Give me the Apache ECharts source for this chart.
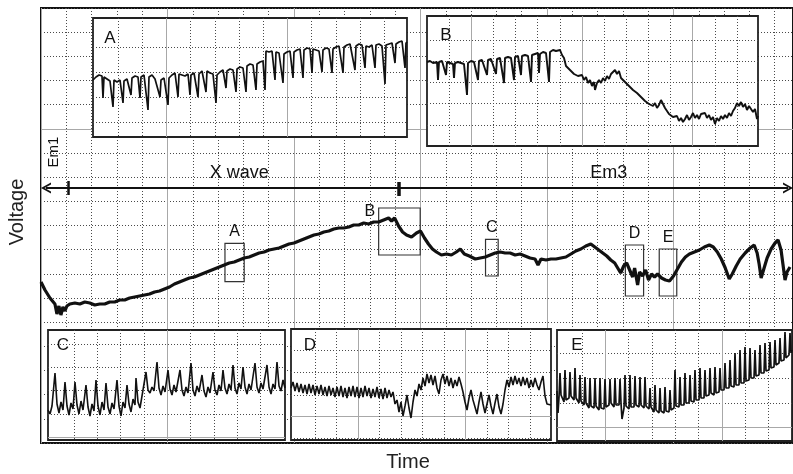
<!DOCTYPE html>
<html><head><meta charset="utf-8">
<script src="https://cdn.jsdelivr.net/npm/echarts@6/dist/echarts.min.js"></script>
<style>html,body{margin:0;padding:0;background:#fff}#c{width:793px;height:474px}</style>
</head><body><div id="c"></div>
<script>
// ---------- DATA (time units, voltage units; 1 grid division = 25.4 time / 24.17 voltage) ----------
const mainTrace = [[0,161],[4,153],[9,145],[14,139],[16,129],[18,137],[20,128],[22,136],[24,132],[26,137],[29,139],[34,140],[39,139],[44,141],[49,140],[54,138],[59,139],[64,139],[69,141],[74,141],[79,143],[84,143],[89,145],[94,146],[99,147],[104,148],[109,149],[114,151],[119,152],[124,154],[129,156],[134,159],[139,161],[144,163],[149,165],[154,166],[159,168],[164,170],[169,172],[174,174],[179,176],[184,178],[189,180],[194,181],[199,183],[204,185],[209,186],[214,188],[219,190],[224,191],[229,193],[234,194],[239,195],[244,197],[249,199],[254,200],[259,202],[264,204],[269,206],[274,208],[279,209],[284,211],[289,212],[294,214],[299,215],[304,215],[309,216],[314,218],[319,218],[324,220],[329,219],[334,221],[339,221],[344,223],[349,225],[352,222],[355,225],[359,217],[363,211],[367,208],[372,206],[377,210],[381,212],[385,205],[389,199],[393,194],[397,191],[402,188],[407,189],[412,188],[417,191],[421,194],[425,189],[430,187],[436,184],[441,185],[446,186],[451,188],[456,190],[461,191],[466,190],[471,190],[476,188],[481,189],[486,187],[491,185],[496,184],[499,178],[502,184],[507,183],[512,184],[517,184],[522,185],[527,186],[532,189],[537,192],[542,194],[547,197],[552,199],[556,196],[560,193],[564,190],[568,187],[572,183],[576,180],[579,175],[582,170],[585,177],[588,180],[591,173],[594,166],[596,175],[599,158],[601,171],[604,167],[607,173],[610,163],[613,169],[616,166],[619,169],[623,165],[627,163],[631,162],[635,167],[639,174],[643,181],[647,186],[651,189],[656,191],[661,193],[666,196],[671,198],[675,196],[679,191],[683,184],[687,175],[691,164],[694,169],[698,177],[702,184],[707,190],[712,195],[716,198],[719,190],[721,179],[723,165],[726,175],[729,185],[733,194],[737,200],[740,203],[743,193],[745,178],[747,163],[749,171],[752,176]];

const traceA = [[0,57],[3,60],[6,62],[9,61],[10,39],[11,60],[14,58],[17,56],[20,30],[21,57],[24,55],[27,57],[30,34],[31,56],[34,58],[36,60],[38,42],[39,59],[42,61],[45,60],[47,39],[48,60],[51,62],[53,61],[55,27],[56,60],[59,62],[62,58],[64,57],[67,40],[68,57],[71,59],[73,58],[75,32],[76,59],[79,62],[82,64],[85,40],[86,63],[89,62],[92,61],[95,63],[97,42],[98,62],[101,64],[103,63],[105,40],[106,63],[109,66],[111,67],[113,45],[114,66],[117,64],[120,63],[123,34],[124,62],[127,65],[130,67],[133,49],[134,66],[137,68],[140,67],[143,45],[144,68],[147,70],[150,69],[153,45],[154,71],[157,73],[160,72],[163,47],[164,73],[167,75],[170,76],[172,47],[173,86],[176,85],[179,86],[182,57],[183,85],[186,84],[188,83],[190,54],[191,83],[194,85],[197,86],[200,59],[201,85],[204,87],[207,88],[210,59],[211,87],[214,89],[217,88],[219,64],[220,88],[223,87],[226,86],[229,65],[230,87],[233,89],[236,88],[239,64],[240,88],[243,90],[246,91],[250,64],[251,90],[254,92],[257,93],[259,91],[262,67],[263,91],[266,93],[269,92],[272,69],[273,91],[276,90],[279,92],[282,69],[283,92],[286,93],[289,91],[292,53],[293,92],[296,93],[299,94],[302,74],[303,93],[306,95],[309,96],[312,69],[313,94],[314,95]];

const traceB = [[0,84],[3,85],[6,83],[10,84],[11,66],[12,84],[15,85],[17,83],[19,71],[20,84],[23,83],[26,82],[27,68],[28,83],[31,84],[34,83],[37,82],[40,51],[41,83],[44,85],[47,84],[51,66],[52,85],[55,86],[57,85],[60,71],[61,86],[64,87],[66,88],[69,72],[70,87],[73,88],[75,87],[77,63],[78,88],[81,89],[84,88],[87,66],[88,89],[91,90],[93,89],[94,71],[95,90],[98,91],[101,90],[104,64],[105,91],[108,92],[111,93],[112,73],[113,92],[116,94],[119,93],[122,64],[123,94],[126,96],[129,95],[131,97],[133,96],[135,91],[137,88],[139,80],[141,82],[143,76],[145,78],[147,72],[149,74],[151,70],[153,68],[155,71],[157,66],[159,69],[161,63],[163,66],[165,60],[167,64],[168,56],[170,63],[172,66],[174,63],[176,68],[178,65],[180,70],[182,67],[184,72],[186,74],[188,76],[190,72],[192,75],[194,68],[196,70],[198,64],[200,66],[202,60],[204,62],[206,56],[208,58],[210,53],[212,55],[214,49],[216,51],[218,45],[220,47],[222,42],[224,44],[226,40],[228,43],[230,38],[232,41],[234,46],[236,42],[238,38],[240,35],[242,32],[244,34],[246,29],[248,27],[250,30],[252,25],[254,28],[256,24],[258,27],[260,31],[262,26],[264,29],[266,33],[268,28],[270,31],[272,27],[274,32],[276,30],[278,33],[280,28],[282,31],[284,26],[286,29],[288,22],[290,28],[292,25],[294,30],[296,27],[298,31],[300,28],[302,33],[304,30],[306,35],[308,38],[310,43],[312,40],[314,44],[316,39],[318,42],[320,36],[322,40],[324,38],[326,34],[328,37],[330,27],[331,30]];

const traceC = [[0,30],[2,26],[4,34],[7,67],[9,36],[11,27],[13,38],[15,30],[17,58],[19,34],[21,25],[23,37],[25,31],[27,58],[29,35],[31,26],[33,39],[35,30],[38,55],[40,33],[42,24],[44,36],[46,29],[48,60],[50,34],[52,25],[54,38],[56,30],[58,57],[60,33],[62,26],[64,37],[66,31],[69,60],[71,34],[73,24],[75,38],[77,32],[79,55],[81,36],[83,28],[85,41],[87,35],[88,62],[90,38],[92,32],[94,44],[96,45],[98,68],[100,50],[102,47],[104,53],[106,49],[109,78],[111,52],[113,45],[115,54],[117,48],[120,70],[122,51],[124,45],[126,55],[128,48],[132,70],[134,50],[136,44],[138,53],[140,47],[143,77],[145,50],[147,44],[149,54],[151,48],[154,65],[156,49],[158,43],[160,53],[162,47],[165,68],[167,50],[169,45],[171,55],[173,49],[175,70],[177,52],[179,46],[181,56],[183,50],[185,75],[187,52],[189,46],[191,57],[193,51],[195,73],[197,53],[199,46],[201,56],[203,50],[207,77],[209,53],[211,47],[213,57],[215,51],[219,75],[221,53],[223,46],[225,56],[227,51],[229,78],[231,54],[233,49],[235,60],[237,52]];

const traceD = [[0,52],[2,58],[4,49],[6,57],[8,48],[10,56],[12,47],[14,55],[16,46],[18,56],[20,47],[22,55],[24,45],[26,54],[28,46],[30,55],[32,45],[34,53],[36,44],[38,54],[40,45],[42,52],[44,43],[46,53],[48,44],[50,54],[52,43],[54,52],[56,42],[58,53],[60,44],[62,54],[64,43],[66,53],[68,42],[70,52],[72,43],[74,54],[76,44],[78,52],[80,42],[82,51],[84,43],[86,53],[88,42],[90,51],[92,41],[94,52],[96,42],[98,50],[100,43],[102,48],[104,36],[106,40],[108,28],[110,38],[112,24],[114,34],[116,45],[118,32],[120,22],[122,38],[124,50],[126,44],[128,56],[130,50],[132,62],[134,54],[136,66],[138,57],[140,65],[142,55],[144,64],[146,52],[148,46],[150,60],[152,66],[154,56],[156,64],[158,54],[160,62],[162,52],[164,60],[166,54],[168,63],[170,56],[172,48],[174,38],[176,30],[178,42],[180,50],[182,40],[184,33],[186,26],[188,38],[190,48],[192,36],[194,27],[196,36],[198,45],[200,34],[202,26],[204,37],[206,46],[208,33],[210,26],[212,36],[214,50],[216,60],[218,53],[220,63],[222,55],[224,64],[226,56],[228,62],[230,54],[232,63],[234,55],[236,62],[238,52],[240,60],[242,53],[244,62],[246,55],[248,50],[250,58],[252,64],[254,44],[256,36],[258,34],[260,35]];

const traceE = [[0,50],[1,28],[2,44],[3,68],[4,46],[7,39],[8,71],[9,41],[12,43],[13,69],[14,45],[17,41],[18,73],[19,43],[22,38],[23,66],[24,40],[27,36],[28,64],[29,38],[32,33],[33,63],[34,35],[37,33],[38,63],[39,35],[42,31],[43,63],[44,33],[47,32],[48,62],[49,34],[52,36],[53,62],[54,38],[57,34],[58,63],[59,36],[62,36],[63,62],[64,38],[65,22],[67,33],[68,66],[69,35],[72,32],[73,66],[74,34],[77,34],[78,65],[79,36],[82,34],[83,64],[84,36],[87,33],[88,64],[89,35],[92,32],[93,53],[94,34],[97,29],[98,56],[99,31],[102,28],[103,53],[104,30],[107,28],[108,54],[109,30],[112,29],[113,51],[114,31],[117,33],[118,71],[119,35],[122,34],[123,64],[124,36],[127,36],[128,68],[129,38],[132,38],[133,66],[134,40],[137,39],[138,71],[139,41],[142,41],[143,73],[144,43],[147,43],[148,71],[149,45],[152,46],[153,73],[154,48],[157,46],[158,74],[159,48],[162,49],[163,73],[164,51],[167,51],[168,78],[169,53],[172,53],[173,81],[174,55],[177,54],[178,88],[179,56],[182,56],[183,91],[184,58],[187,58],[188,94],[189,60],[192,61],[193,93],[194,63],[197,63],[198,91],[199,65],[202,66],[203,96],[204,68],[207,68],[208,98],[209,70],[212,71],[213,99],[214,73],[217,74],[218,101],[219,76],[222,78],[223,103],[224,80],[227,81],[228,109],[229,83],[232,86],[233,108],[234,88],[235,91]];

// marked windows on the main trace
const boxNames = ['A','B','C','D','E'];
const boxTime = [[184.7,204],[339,380.7],[446.3,459],[586.7,605],[620.7,638.3]];
const boxVolt = [[161.3,199.7],[188,235],[167,203.7],[147,198],[147,194]];

// phases
const phaseNames = ['Em1','X wave','Em3'];
const phaseBounds = [27, 359];
const phaseLevel = 255;

// grid-line ticks (axis units)
const mainMajorV = [314.17];
const gridA_t = [25,49.2,73.4,97.6,121.8,146,170.2,194.4,218.6,242.8,267,291.2], gridA_v = [14.4,39.4,64.4,89.4], majorA_t = [73.4,194.4], majorA_v = [];
const gridB_t = [22,44.15,66.3,88.45,110.6,132.75,154.9,177.05,199.2,221.35,243.5,265.65,287.8,309.95], gridB_v = [21,42.3,63.6,84.9,106.2], majorB_t = [44.15,154.9,265.65], majorB_v = [];
const gridC_t = [26,49.3,72.6,95.9,119.2,142.5,165.8,189.1,212.4], gridC_v = [26,49.3,72.6,95.9], majorC_t = [119.2], majorC_v = [2.7];
const gridD_t = [24,45.5,67,88.5,110,131.5,153,174.5,196,217.5,239], gridD_v = [1.7,23.3,45,67.3,89.3], majorD_t = [67,174.5], majorD_v = [23.3];
const gridE_t = [25,48.3,71.6,94.9,118.2,141.5,164.8,188.1,211.4], gridE_v = [38,62.7,87.3], majorE_t = [48.3,164.8], majorE_v = [13.3];

// ---------- OPTION ----------
const FONT = '"Liberation Sans", Arial, sans-serif';
const dotted = {type:[1,2], color:'#4a4a4a', width:1};
const solidG = {type:'solid', color:'#a8a8a8', width:1};
const grids = [], xAxes = [], yAxes = [], series = [];

function hidden(extra){ return Object.assign({type:'value', axisLine:{show:false}, axisLabel:{show:false}}, extra); }

// main grid
grids.push({left:41, top:8, right:-3, bottom:31, show:true, backgroundColor:'#fff', borderColor:'#111', borderWidth:2, z:0});
xAxes.push(hidden({gridIndex:0, min:0, max:755, interval:25.4, axisTick:{show:false}, splitLine:{show:true, lineStyle:dotted}, z:0}));
xAxes.push(hidden({gridIndex:0, min:0, max:755, interval:127, axisTick:{show:false}, splitLine:{show:true, lineStyle:solidG}, z:0}));
yAxes.push(hidden({gridIndex:0, min:0, max:435, interval:24.1667, axisTick:{show:false}, splitLine:{show:true, lineStyle:dotted}, z:0}));
yAxes.push(hidden({gridIndex:0, min:0, max:435, axisTick:{show:false, customValues:mainMajorV}, splitLine:{show:true, lineStyle:solidG}, z:0}));

const chevron = 'path://M0,10 L5,0 L10,10 L8.2,10 L5,3.6 L1.8,10 Z';
series.push({
  type:'line', xAxisIndex:0, yAxisIndex:0, data:mainTrace, showSymbol:false, z:2,
  lineStyle:{color:'#111', width:3.2}, silent:true,
  markArea:{silent:true,
    itemStyle:{color:'rgba(0,0,0,0)', borderColor:'#333', borderWidth:1.2},
    label:{show:true, position:'top', distance:3, color:'#111', fontSize:16, fontFamily:FONT},
    data: boxNames.map((n,i)=>[
      {name:n, coord:[boxTime[i][0], boxVolt[i][1]],
       label: n==='B' ? {position:'left', distance:3, offset:[0,-20]} : undefined},
      {coord:[boxTime[i][1], boxVolt[i][0]]}])
  },
  markLine:{silent:true, animation:false, label:{show:false},
    data:[
      [{coord:[5,phaseLevel], symbol:chevron, symbolSize:[11,10], lineStyle:{color:'#111', width:2, type:'solid'}},
       {coord:[750,phaseLevel], symbol:chevron, symbolSize:[11,10]}],
      [{coord:[phaseBounds[0],phaseLevel-7], symbol:'none', lineStyle:{color:'#111', width:2.5, type:'solid'}},
       {coord:[phaseBounds[0],phaseLevel+7], symbol:'none'}],
      [{coord:[phaseBounds[1],phaseLevel-8], symbol:'none', lineStyle:{color:'#111', width:3.5, type:'solid'}},
       {coord:[phaseBounds[1],phaseLevel+6], symbol:'none'}]
    ]},
  markPoint:{silent:true, symbol:'circle', symbolSize:1, itemStyle:{color:'rgba(0,0,0,0)'},
    label:{show:true, position:'inside', color:'#111', fontFamily:FONT, fontSize:18, formatter:p=>p.name},
    data:[
      {name:phaseNames[0], coord:[13,291], label:{rotate:90, fontSize:15}},
      {name:phaseNames[1], coord:[199,270]},
      {name:phaseNames[2], coord:[570,270]}
    ]}
});

function addInset(box, W, H, tT, vT, tM, vM, data, lw){
  const g = grids.length;
  grids.push({left:box[0], top:box[1], width:W, height:H, show:true, backgroundColor:'#fff', borderColor:'#222', borderWidth:1.8, z:5});
  const xi = xAxes.length, yi = yAxes.length;
  xAxes.push(hidden({gridIndex:g, min:0, max:W, axisTick:{show:false, customValues:tT}, splitLine:{show:true, lineStyle:dotted}, z:5}));
  yAxes.push(hidden({gridIndex:g, min:0, max:H, axisTick:{show:false, customValues:vT}, splitLine:{show:true, lineStyle:dotted}, z:5}));
  if (tM.length) xAxes.push(hidden({gridIndex:g, min:0, max:W, axisTick:{show:false, customValues:tM}, splitLine:{show:true, lineStyle:solidG}, z:5}));
  if (vM.length) yAxes.push(hidden({gridIndex:g, min:0, max:H, axisTick:{show:false, customValues:vM}, splitLine:{show:true, lineStyle:solidG}, z:5}));
  series.push({type:'line', xAxisIndex:xi, yAxisIndex:yi, data:data, showSymbol:false, z:6, silent:true,
    lineStyle:{color:'#111', width:lw}});
}
addInset([93,18], 314, 119, gridA_t, gridA_v, majorA_t, majorA_v, traceA, 1.7);
addInset([427,16], 331, 130, gridB_t, gridB_v, majorB_t, majorB_v, traceB, 1.9);
addInset([48,330], 237, 110, gridC_t, gridC_v, majorC_t, majorC_v, traceC, 1.6);
addInset([291,329], 260, 111, gridD_t, gridD_v, majorD_t, majorD_v, traceD, 1.6);
addInset([557,330], 235, 111, gridE_t, gridE_v, majorE_t, majorE_v, traceE, 1.7);

const insetLetters = [['A',110,38],['B',446,35],['C',63,345],['D',310,345],['E',577,345]];
const graphic = insetLetters.map(l=>({type:'text', x:l[1], y:l[2], z:20,
  style:{text:l[0], font:'17px '+FONT, fill:'#111', align:'center', verticalAlign:'middle'}}));
graphic.push({type:'text', x:17, y:212, rotation:Math.PI/2, z:20,
  style:{text:'Voltage', font:'20px '+FONT, fill:'#222', align:'center', verticalAlign:'middle'}});
graphic.push({type:'text', x:408, y:462, z:20,
  style:{text:'Time', font:'20px '+FONT, fill:'#222', align:'center', verticalAlign:'middle'}});

const chart = echarts.init(document.getElementById('c'), null, {renderer:'canvas'});
chart.setOption({animation:false, backgroundColor:'#fff', grid:grids, xAxis:xAxes, yAxis:yAxes, series:series, graphic:graphic});
</script></body></html>
